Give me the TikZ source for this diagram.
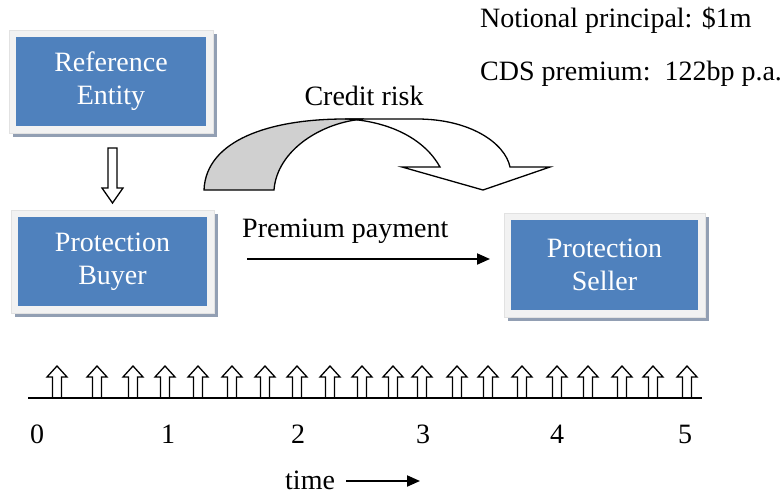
\documentclass[tikz,border=0pt]{standalone}
\usepackage{fontspec}
\setmainfont{Liberation Serif}
\usetikzlibrary{arrows.meta,backgrounds,calc}
\definecolor{boxblue}{HTML}{4F81BD}
\definecolor{boxframe}{HTML}{F2F2F2}
\definecolor{boxedge}{HTML}{E2E2E2}
\definecolor{boxshadow}{HTML}{929FB3}
\definecolor{riskgray}{HTML}{D0D0D0}
\tikzset{
  lbl/.style={font=\fontsize{28}{33}\selectfont, inner sep=0pt},
  entity/.style={fill=boxblue, text=white, align=center,
    font=\fontsize{28}{33}\selectfont, inner sep=0pt},
  hollow/.style={draw=black, fill=white, line width=1.3pt, line join=miter},
  riskarrow/.style={draw=black, line width=1.3pt, line join=miter},
  flow/.style={line width=2pt, -{Triangle[length=13pt,width=11pt]}},
  axis/.style={line width=2pt},
}
% light frame with a drop shadow behind an entity node
\newcommand\entityframe[1]{%
  \begin{scope}[on background layer]
    \fill[boxshadow] ([shift={(-3,-3)}]#1.north west) rectangle ([shift={(11,11)}]#1.south east);
    \filldraw[fill=boxframe, draw=boxedge, line width=0.6pt]
      ([shift={(-7,-7)}]#1.north west) rectangle ([shift={(7,7)}]#1.south east);
  \end{scope}}
\begin{document}
\begin{tikzpicture}[x=1pt, y=-1pt]
\useasboundingbox (0,0) rectangle (782,498);

% contract terms
\node[lbl, anchor=base west] (notional) at (480,27) {Notional principal: \$1m};
\node[lbl, anchor=base west] (premium) at (480,80) {CDS premium:\ \ 122bp p.a.};

% parties
\node[entity, minimum width=190pt, minimum height=89pt] (ref) at (111,81.5) {Reference\\Entity};
\entityframe{ref}
\node[entity, minimum width=189pt, minimum height=89pt] (buyer) at (112.5,261.5) {Protection\\Buyer};
\entityframe{buyer}
\node[entity, minimum width=187pt, minimum height=90pt] (seller) at (604.5,265) {Protection\\Seller};
\entityframe{seller}

% hollow arrow from the reference entity down to the buyer
\draw[hollow] (108,148) -- (117,148) -- (117,188) -- (123,188) -- (112.5,203)
  -- (102,188) -- (108,188) -- cycle;

% credit risk transfer: curved arrow from buyer towards seller
\node[lbl, anchor=base] (risk) at (364,105) {Credit risk};
\filldraw[riskarrow, fill=riskgray]
  (204,190) .. controls (206,140) and (270,119) .. (345,119) -- (364,119)
  .. controls (322,122) and (277,150) .. (274,190) -- cycle;
\filldraw[riskarrow, fill=white]
  (345,119) -- (417,119) .. controls (470,119) and (505,143) .. (510,167)
  -- (550,167) -- (483,190) -- (402,167) -- (440,167)
  .. controls (425,140) and (392,122) .. (348,119) -- cycle;

% premium payments
\node[lbl, anchor=base west] (paylbl) at (242,237) {Premium payment};
\coordinate (payfrom) at (247,259);
\coordinate (payto) at (490,259);
\draw[flow] (payfrom) -- (payto);

% quarterly payment dates on the time line
\foreach \x in {57,97,133,165,198,232,265,297,330,362,393,422,457,488,522,557,588,622,653,687}
  \draw[hollow] (\x-4.5,398) -- (\x-4.5,377) -- (\x-10,377) -- (\x,366) -- (\x+10,377)
    -- (\x+4.5,377) -- (\x+4.5,398);
\coordinate (tstart) at (28,398);
\coordinate (tend) at (702,398);
\draw[axis] (tstart) -- (tend);

\foreach \lab/\x in {0/37,1/168,2/298,3/423,4/557,5/685}
  \node[lbl, anchor=base] (year\lab) at (\x,443) {\lab};

\node[lbl, anchor=base west] (timelbl) at (285,489) {time};
\coordinate (tafrom) at (346,481);
\coordinate (tato) at (420,481);
\draw[flow] (tafrom) -- (tato);
\end{tikzpicture}
\end{document}
